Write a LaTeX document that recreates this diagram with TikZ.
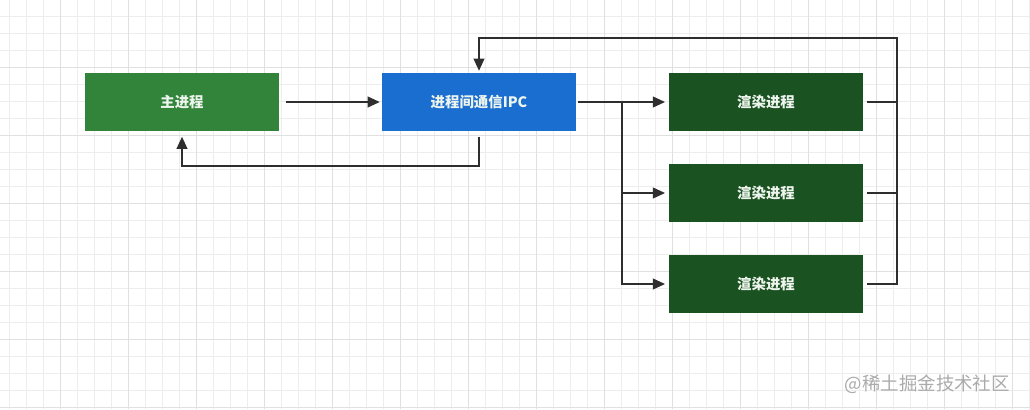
\documentclass[tikz,border=0pt]{standalone}
\usepackage{fontspec}
\newfontfamily\cjk{Noto Sans CJK SC}
\usetikzlibrary{arrows.meta}

\definecolor{cmain}{HTML}{318439}
\definecolor{cipc}{HTML}{1A6ED0}
\definecolor{crender}{HTML}{1B5221}
\definecolor{cline}{HTML}{2E2E2E}
\definecolor{cgrid}{HTML}{EDEDED}
\definecolor{cgridmajor}{HTML}{E0E0E0}
\definecolor{ctext}{HTML}{EEF5EE}
\definecolor{cmark}{HTML}{ABABAB}

\begin{document}
\begin{tikzpicture}[x=0.02cm, y=-0.02cm,
	box/.style={minimum width=3.88cm, minimum height=1.16cm, inner sep=0pt, text=ctext, font=\cjk\bfseries\fontsize{8.2}{10}\selectfont},
	link/.style={draw=cline, line width=1.3pt},
	arr/.style={link, -{Triangle[length=7pt, width=6pt]}}]
	
	\def \gap{3}
	\def \xsplit{622}
	\def \xmerge{897}
	\def \ytop{38}
	\def \ybottom{166}
	
	\useasboundingbox (0,0) rectangle (1030,409);
	\fill[white] (0,0) rectangle (1030,409);
	
	% GRID
	\foreach \ix in {9,26,...,1030}{
		\draw[cgrid, line width=0.4pt] (\ix,0) -- (\ix,409);
	}
	\foreach \iy in {16,33,...,409}{
		\draw[cgrid, line width=0.4pt] (0,\iy) -- (1030,\iy);
	}
	\foreach \ix in {60,128,...,1030}{
		\draw[cgridmajor, line width=0.5pt] (\ix,0) -- (\ix,409);
	}
	\foreach \iy in {67,135,...,409}{
		\draw[cgridmajor, line width=0.5pt] (0,\iy) -- (1030,\iy);
	}
	
	% BOXES
	\node[box, fill=cmain] (main) at (182,102) {主进程};
	\node[box, fill=cipc] (ipc) at (479,102) {进程间通信IPC};
	\foreach \i/\y in {1/102, 2/193, 3/284}{
		\node[box, fill=crender] (render\i) at (766,\y) {渲染进程};
	}
	
	% MAIN <-> IPC
	\draw[arr, shorten <=4, shorten >=1] (main.east) -- (ipc.west);
	\draw[arr, shorten <=\gap, shorten >=\gap] (ipc.south) -- (ipc.south |- 0,\ybottom) -| (main.south);
	
	% IPC -> RENDER
	\coordinate (split) at (\xsplit,102);
	\draw[link, shorten <=1] (ipc.east) -- (split);
	\draw[arr, shorten >=2] (split) -- (render1.west);
	\draw[arr, shorten >=2] (split) |- (render2.west);
	\draw[arr, shorten >=2] (split) |- (render3.west);
	
	% RENDER -> IPC
	\coordinate (merge) at (\xmerge,\ytop);
	\draw[link, shorten <=2] (render1.east) -- (render1.east -| merge);
	\draw[link, shorten <=2] (render2.east) -- (render2.east -| merge);
	\draw[arr, shorten <=2, shorten >=1] (render3.east) -| (merge) -| (ipc.north);
	
	% WATERMARK
	\node[text=cmark, font=\cjk\fontsize{10.5}{13}\selectfont, anchor=east] (mark) at (1016,384) {@稀土掘金技术社区};
	
\end{tikzpicture}
\end{document}
